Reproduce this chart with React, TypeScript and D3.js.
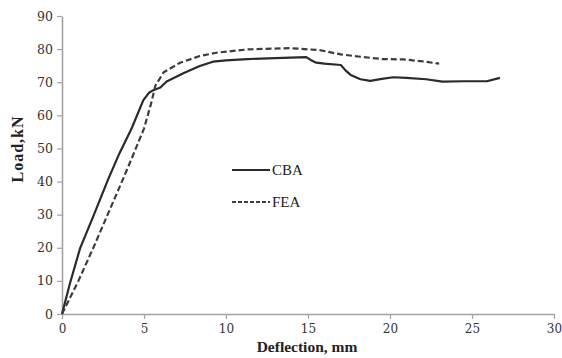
import React, { useEffect, useRef } from "react";
import * as d3 from "d3";

// Load–deflection curves
const cbaDefl = [0, 0.5, 1.1, 1.9, 2.8, 3.5, 4.25, 4.96, 5.3, 5.57, 6.0, 6.38, 7.4, 8.4, 9.2, 10, 11.3, 13, 14.9, 15.2, 15.5, 16, 17, 17.3, 17.6, 18.2, 18.8, 19.5, 20.2, 21, 22.2, 23.2, 24.5, 25.9, 26.7];
const cbaLoad = [0, 9.5, 19.8, 29.4, 40.5, 48.5, 56.1, 64.6, 66.8, 67.6, 68.4, 70.2, 72.7, 74.9, 76.2, 76.6, 77, 77.3, 77.6, 76.6, 75.9, 75.6, 75.2, 73.5, 72.2, 70.9, 70.4, 71, 71.5, 71.3, 70.9, 70.2, 70.3, 70.3, 71.3];

const feaDefl = [0, 1, 2, 3, 4, 5, 5.4, 5.7, 6.2, 7.2, 8.4, 9.4, 11.3, 13.9, 15.7, 17, 18.2, 19.5, 20.8, 22, 23];
const feaLoad = [0, 10, 21, 32.5, 44, 56, 63, 69, 73, 75.9, 77.9, 78.9, 79.9, 80.3, 79.7, 78.4, 77.7, 77, 76.9, 76.3, 75.6];

const xTicks = [0, 5, 10, 15, 20, 25, 30];
const yTicks = [0, 10, 20, 30, 40, 50, 60, 70, 80, 90];

const series = [
  { name: "CBA", xs: cbaDefl, ys: cbaLoad, dash: null },
  { name: "FEA", xs: feaDefl, ys: feaLoad, dash: "6,3" },
];

const W = 562, H = 358;

export default function App() {
  const ref = useRef<SVGSVGElement | null>(null);

  useEffect(() => {
    if (!ref.current) return;
    const svg = d3.select(ref.current);
    svg.selectAll("*").remove();

    const x = d3.scaleLinear().domain([0, 30]).range([62, 554]);
    const y = d3.scaleLinear().domain([0, 90]).range([314, 16]);
    const axisCol = "#a3a3a3";
    const tickFont = "DejaVu Serif, serif";

    // x axis
    const gx = svg.append("g").attr("transform", `translate(0,${y(0)})`)
      .call(d3.axisBottom(x).tickValues(xTicks).tickSize(5).tickPadding(5).tickSizeOuter(0));
    gx.select(".domain").attr("stroke", axisCol).attr("stroke-width", 1.6);
    gx.selectAll(".tick line").attr("stroke", axisCol).attr("stroke-width", 1.2);
    gx.selectAll(".tick text").attr("fill", "#333").attr("font-size", 12).attr("font-family", tickFont);

    // y axis
    const gy = svg.append("g").attr("transform", `translate(${x(0)},0)`)
      .call(d3.axisLeft(y).tickValues(yTicks).tickSize(5).tickPadding(4).tickSizeOuter(0));
    gy.select(".domain").attr("stroke", axisCol).attr("stroke-width", 1.6);
    gy.selectAll(".tick line").attr("stroke", axisCol).attr("stroke-width", 1.2);
    gy.selectAll(".tick text").attr("fill", "#333").attr("font-size", 12.5).attr("font-family", tickFont);

    // curves
    const path = d3.line<[number, number]>().x((d) => x(d[0])).y((d) => y(d[1]));
    series.forEach((s) => {
      const pts = s.xs.map((v, i) => [v, s.ys[i]] as [number, number]);
      svg.append("path").attr("d", path(pts))
        .attr("fill", "none").attr("stroke", s.dash ? "#3d3d3d" : "#2a2a2a")
        .attr("stroke-width", 2.2).attr("stroke-linejoin", "round")
        .attr("stroke-dasharray", s.dash);
    });

    // legend
    series.forEach((s, i) => {
      const ly = 170 + i * 32;
      svg.append("line").attr("x1", 232).attr("x2", 270).attr("y1", ly).attr("y2", ly)
        .attr("stroke", s.dash ? "#3d3d3d" : "#2a2a2a").attr("stroke-width", 2.2)
        .attr("stroke-dasharray", s.dash ? "4,2" : null);
      svg.append("text").attr("x", 272).attr("y", ly + 5).attr("fill", "#222")
        .attr("font-size", 15).attr("font-family", "Liberation Serif, serif").text(s.name);
    });

    // axis titles
    svg.append("text").attr("x", 307).attr("y", 352).attr("text-anchor", "middle")
      .attr("font-size", 15.5).attr("font-weight", 700).attr("font-family", "Liberation Serif, serif")
      .attr("fill", "#222").text("Deflection, mm");
    svg.append("text").attr("transform", `translate(23,149) rotate(-90)`).attr("text-anchor", "middle")
      .attr("font-size", 16).attr("font-weight", 700).attr("font-family", "Liberation Serif, serif")
      .attr("letter-spacing", 1).attr("fill", "#222").text("Load,kN");
  }, []);

  return (
    <svg ref={ref} width={W} height={H}
      style={{ position: "absolute", left: 0, top: 0, background: "#fff" }} />
  );
}
